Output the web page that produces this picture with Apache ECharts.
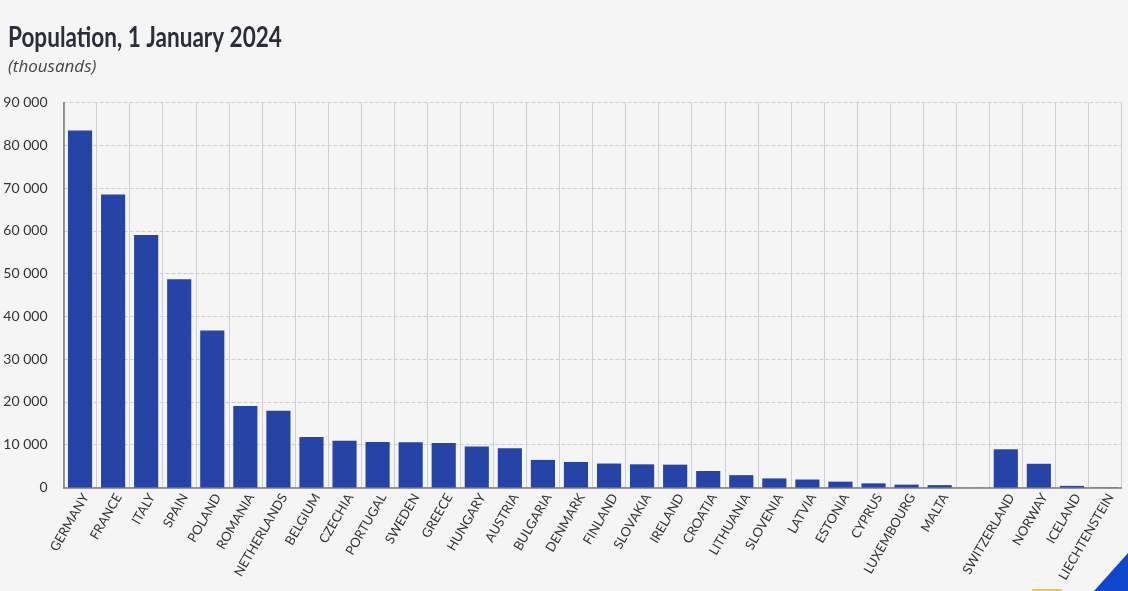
<!DOCTYPE html>
<html>
<head>
<meta charset="utf-8">
<style>html,body{margin:0;padding:0;background:#f5f5f5}#main{width:1128px;height:591px}</style>
<script src="https://cdn.jsdelivr.net/npm/echarts@6/dist/echarts.min.js"></script>
</head>
<body>
<div id="main"></div>
<script>
var countries = ['GERMANY','FRANCE','ITALY','SPAIN','POLAND','ROMANIA','NETHERLANDS','BELGIUM','CZECHIA','PORTUGAL','SWEDEN','GREECE','HUNGARY','AUSTRIA','BULGARIA','DENMARK','FINLAND','SLOVAKIA','IRELAND','CROATIA','LITHUANIA','SLOVENIA','LATVIA','ESTONIA','CYPRUS','LUXEMBOURG','MALTA','','SWITZERLAND','NORWAY','ICELAND','LIECHTENSTEIN'];
var population = [83450,68500,59000,48700,36700,19050,17950,11830,10900,10640,10550,10400,9580,9160,6450,5960,5600,5420,5340,3860,2890,2120,1870,1370,970,670,560,null,8960,5550,380,40];

var labelFont = 'Lato,sans-serif';
var chart = echarts.init(document.getElementById('main'));
chart.setOption({
    backgroundColor: '#f5f5f5',
    animation: false,
    grid: {left: 63.5, right: 6.5, top: 102.5, bottom: 103.5, outerBoundsMode: 'none'},
    xAxis: {
        type: 'category',
        data: countries,
        axisLine: {lineStyle: {color: '#77777f', width: 1.5}},
        axisTick: {show: false},
        axisLabel: {interval: 0, rotate: 60, margin: 4, verticalAlign: 'top', fontFamily: labelFont, fontSize: 13, color: '#333'},
        splitLine: {show: true, interval: 0, lineStyle: {color: '#cfcfcf', width: 1}}
    },
    yAxis: {
        type: 'value',
        min: 0,
        max: 90000,
        interval: 10000,
        axisLine: {show: true, lineStyle: {color: '#77777f', width: 1.5}},
        axisTick: {show: false},
        axisLabel: {
            margin: 16,
            padding: [4, 0, 0, 0],
            fontFamily: labelFont,
            fontSize: 14,
            color: '#333',
            formatter: function(v) { return String(v).replace(/\B(?=(\d{3})+$)/g, ' '); }
        },
        splitLine: {lineStyle: {color: '#cdcdcd', type: 'dashed', width: 1}}
    },
    series: [{
        type: 'bar',
        data: population,
        barCategoryGap: '27%',
        itemStyle: {color: '#2644a6'}
    }],
    graphic: [
        {type: 'text', silent: true, x: 8, y: 24, scaleX: 0.805, style: {text: 'Population, 1 January 2024', font: 'bold 28px Lato,sans-serif', fill: '#2a2e3a'}},
        {type: 'text', silent: true, x: 8, y: 59, style: {text: '(thousands)', font: 'italic 17px "Open Sans",sans-serif', fill: '#444'}},
        {type: 'polygon', silent: true, shape: {points: [[1128,553],[1128,591],[1094,591]]}, style: {fill: '#0e47cb'}},
        {type: 'rect', silent: true, shape: {x: 1032, y: 589, width: 30, height: 2}, style: {fill: '#f6c92f'}}
    ]
});
</script>
</body>
</html>
